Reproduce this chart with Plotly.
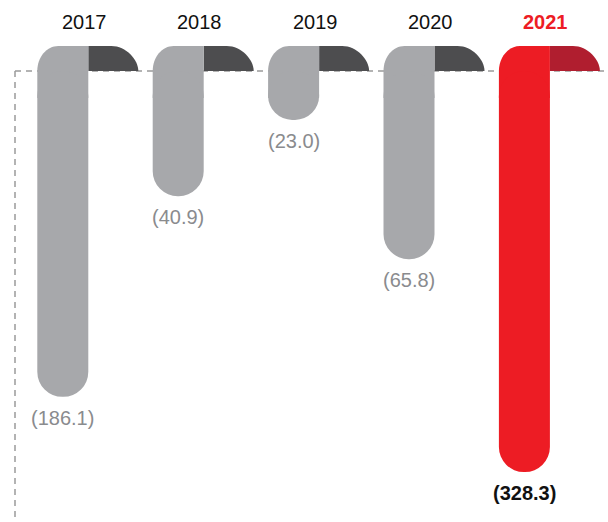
import math
import plotly.graph_objects as go

# ---- data -------------------------------------------------------------
years = [2017, 2018, 2019, 2020, 2021]
losses = [186.1, 40.9, 23.0, 65.8, 328.3]          # reported as negatives
loss_labels = ["(186.1)", "(40.9)", "(23.0)", "(65.8)", "(328.3)"]
year_labels = ["2017", "2018", "2019", "2020", "2021"]
highlight_year = 2021

# ---- styling ----------------------------------------------------------
W, H = 608, 522
LIGHT_GREY = "#A7A8AB"
DARK_GREY = "#4D4D4F"
RED = "#ED1C24"
DARK_RED = "#B01E2F"
LABEL_GREY = "#8A8B8E"
DASH_GREY = "#9B9B9B"
FONT = "Liberation Sans, Arial, sans-serif"

PX_PER_YEAR = 115.4        # horizontal spacing of the columns
FIRST_JOIN_PX = 88.3       # where the first column meets its cap
BAR_W = 51 / PX_PER_YEAR
CAP_W = 50 / PX_PER_YEAR
RADIUS_PX = 25             # column end rounding and cap height
LIGHT_CAP_R = 21           # horizontal rounding of the light half of a cap
DARK_CAP_R = 27            # horizontal rounding of the dark half of a cap
BASELINE_VALUE = 15.9      # axis value sitting on the dashed baseline
PX_PER_DECADE = 305
BASELINE_PX = 71
KAPPA = 0.5523             # cubic bezier quarter-circle constant

x_lo = 2017 - FIRST_JOIN_PX / PX_PER_YEAR
x_hi = x_lo + W / PX_PER_YEAR
y_top_log = math.log10(BASELINE_VALUE) - BASELINE_PX / PX_PER_DECADE
y_bot_log = y_top_log + H / PX_PER_DECADE
rx_light = LIGHT_CAP_R / PX_PER_YEAR
rx_dark = DARK_CAP_R / PX_PER_YEAR


def above(px):
    """Axis value lying `px` pixels above the baseline."""
    return 10 ** (math.log10(BASELINE_VALUE) - px / PX_PER_DECADE)


def fill_of(y, dark=False):
    if y == highlight_year:
        return DARK_RED if dark else RED
    return DARK_GREY if dark else LIGHT_GREY


shapes = []

# dark half of each cap (right of the column)
for y in years:
    xm, xr = y, y + CAP_W
    path = (
        f"M {xm},{above(0)} L {xm},{above(RADIUS_PX)} "
        f"L {xr - rx_dark},{above(RADIUS_PX)} "
        f"C {xr - rx_dark * (1 - KAPPA)},{above(RADIUS_PX)} "
        f"{xr},{above(RADIUS_PX * (1 - KAPPA))} {xr},{above(0)} Z"
    )
    shapes.append(dict(type="path", path=path, xref="x", yref="y",
                       fillcolor=fill_of(y, True), line=dict(width=0),
                       layer="below"))

# dashed baseline and left guide
shapes.append(dict(type="line", xref="paper", yref="y",
                   x0=15 / W, x1=1, y0=BASELINE_VALUE, y1=BASELINE_VALUE,
                   line=dict(color=DASH_GREY, width=1.5, dash="6px,5px"),
                   layer="below"))
shapes.append(dict(type="line", xref="paper", yref="y",
                   x0=15 / W, x1=15 / W, y0=BASELINE_VALUE, y1=10 ** y_bot_log,
                   line=dict(color=DASH_GREY, width=1.5, dash="6px,5px"),
                   layer="below"))

# light half of each cap, curving into the column; it reaches a little
# below the baseline so the column's upper end joins it squarely
for y in years:
    xl, xm = y - BAR_W, y
    low = above(-(RADIUS_PX + 2))
    path = (
        f"M {xl},{low} L {xl},{above(0)} "
        f"C {xl},{above(RADIUS_PX * KAPPA)} "
        f"{xl + rx_light * (1 - KAPPA)},{above(RADIUS_PX)} "
        f"{xl + rx_light},{above(RADIUS_PX)} "
        f"L {xm},{above(RADIUS_PX)} L {xm},{low} Z"
    )
    shapes.append(dict(type="path", path=path, xref="x", yref="y",
                       fillcolor=fill_of(y), line=dict(width=0),
                       layer="below"))

# hanging columns, from the baseline down to each loss
fig = go.Figure(go.Bar(
    x=years,
    y=[v - BASELINE_VALUE for v in losses],
    base=BASELINE_VALUE,
    offset=-BAR_W,
    width=BAR_W,
    marker=dict(color=[fill_of(y) for y in years], line=dict(width=0),
                cornerradius=RADIUS_PX),
    hoverinfo="skip",
))

annotations = []
for y, lab in zip(years, year_labels):
    hi = y == highlight_year
    annotations.append(dict(
        x=y, y=1 - 21.7 / H, xref="x", yref="paper", xshift=-4,
        text=f"<b>{lab}</b>" if hi else lab, showarrow=False,
        xanchor="center", yanchor="middle",
        font=dict(family=FONT, size=20, color=RED if hi else "#111111"),
    ))

for y, v, lab in zip(years, losses, loss_labels):
    hi = y == highlight_year
    annotations.append(dict(
        x=y - BAR_W / 2, y=math.log10(v), xref="x", yref="y", yshift=-21,
        text=f"<b>{lab}</b>" if hi else lab, showarrow=False,
        xanchor="center", yanchor="middle",
        font=dict(family=FONT, size=20,
                  color="#111111" if hi else LABEL_GREY),
    ))

fig.update_layout(
    width=W, height=H,
    margin=dict(l=0, r=0, t=0, b=0),
    paper_bgcolor="white", plot_bgcolor="white",
    showlegend=False,
    barmode="overlay",
    shapes=shapes,
    annotations=annotations,
    xaxis=dict(range=[x_lo, x_hi], visible=False, fixedrange=True),
    yaxis=dict(type="log", range=[y_bot_log, y_top_log], visible=False,
               fixedrange=True),
)

fig.write_html("out.html", config={"displayModeBar": False})
